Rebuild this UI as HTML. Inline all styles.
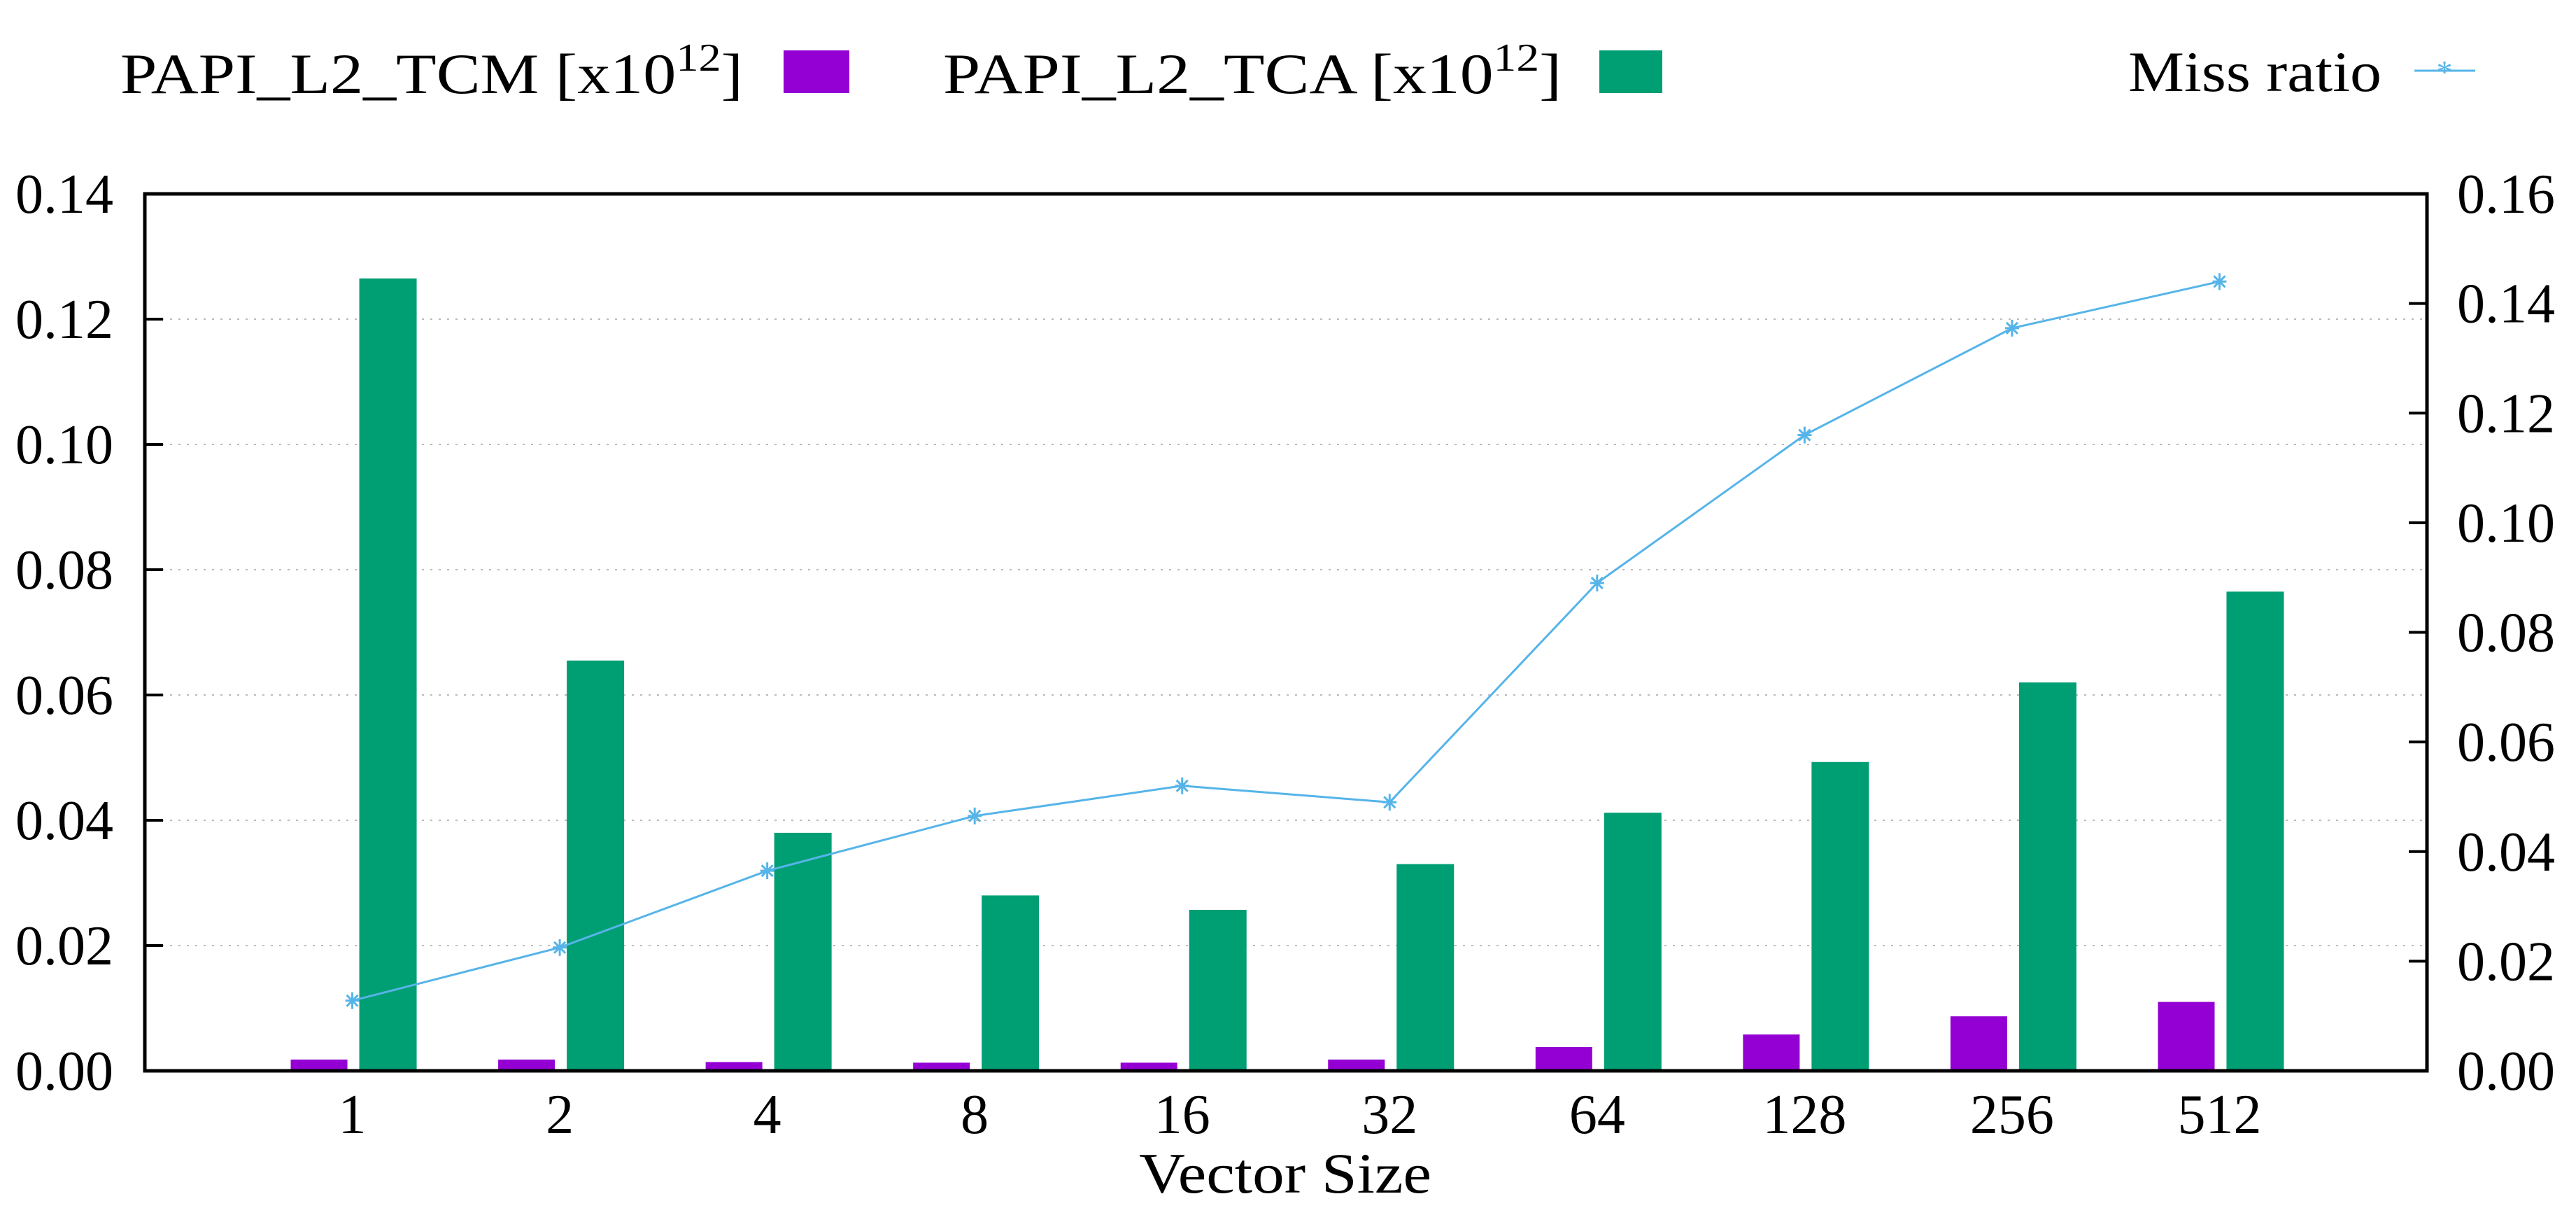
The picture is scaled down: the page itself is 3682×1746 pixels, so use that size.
<!DOCTYPE html>
<html><head><meta charset="utf-8"><style>
html,body{margin:0;padding:0;background:#fff}
svg{display:block}
text{font-family:"Liberation Serif",serif;fill:#000}
</style></head><body>
<svg id="chart" width="3682" height="1746" viewBox="0 0 3682 1746" xmlns="http://www.w3.org/2000/svg">
<g id="legend">
  <text x="172" y="133" font-size="82" textLength="890" lengthAdjust="spacingAndGlyphs">PAPI_L2_TCM [x10<tspan dy="-32" font-size="56">12</tspan><tspan dy="32">]</tspan></text>
  <rect x="1120" y="72" width="94" height="61" fill="#9400d3"/>
  <text x="1348" y="133" font-size="82" textLength="884" lengthAdjust="spacingAndGlyphs">PAPI_L2_TCA [x10<tspan dy="-32" font-size="56">12</tspan><tspan dy="32">]</tspan></text>
  <rect x="2286" y="72" width="90" height="61" fill="#009e73"/>
  <text x="3042" y="130" font-size="82" textLength="362" lengthAdjust="spacingAndGlyphs">Miss ratio</text>
  <line x1="3451" y1="101" x2="3538" y2="101" stroke="#56b4e9" stroke-width="3"/>
  <text x="3494" y="118" font-size="46" text-anchor="middle" fill="#56b4e9" style="fill:#56b4e9">*</text>
</g>
<g id="grid"></g>
<g id="bars"></g>
<g id="line"></g>
<g id="axes"></g>
<text x="1837" y="1704" font-size="82" text-anchor="middle" textLength="418" lengthAdjust="spacingAndGlyphs">Vector Size</text>
</svg>
<script>
const categories = ["1","2","4","8","16","32","64","128","256","512"];
const tcmValues = [0.0018,0.0018,0.0014,0.0013,0.0013,0.0018,0.0038,0.0058,0.0087,0.011];
const tcaValues = [0.1265,0.0655,0.038,0.028,0.0257,0.033,0.0412,0.0493,0.062,0.0765];
const missRatio = [0.0128,0.0225,0.0365,0.0465,0.052,0.049,0.089,0.116,0.1355,0.144];
const leftTicks = ["0.00","0.02","0.04","0.06","0.08","0.10","0.12","0.14"];
const rightTicks = ["0.00","0.02","0.04","0.06","0.08","0.10","0.12","0.14","0.16"];

const NS="http://www.w3.org/2000/svg";
const L=207,R=3469,T=277,B=1530;
const leftMax=0.14,rightMax=0.16;
function xPos(i){return L+(i+1)*(R-L)/(categories.length+1);}
function yLeft(v){return B-(v/leftMax)*(B-T);}
function yRight(v){return B-(v/rightMax)*(B-T);}
function mk(tag,attrs,parent){const e=document.createElementNS(NS,tag);for(const k in attrs)e.setAttribute(k,attrs[k]);parent.appendChild(e);return e;}
const grid=document.getElementById('grid'),bars=document.getElementById('bars'),line=document.getElementById('line'),axes=document.getElementById('axes');

leftTicks.forEach((t)=>{
  const v=parseFloat(t),y=yLeft(v);
  if(v>0&&v<leftMax){
    const g=mk('line',{x1:L,x2:R,y1:y,y2:y,stroke:'#bbb','stroke-width':2,'stroke-dasharray':'3,9'},grid);
    
    
  }
  const tk=mk('line',{x1:L,x2:L+26,y1:y,y2:y,stroke:'#000','stroke-width':4},axes);
  
  
  const tx=mk('text',{x:162,y:y+27,'font-size':80,'text-anchor':'end'},axes);
  tx.textContent=t;
  
  
});
rightTicks.forEach((t)=>{
  const v=parseFloat(t),y=yRight(v);
  const tk=mk('line',{x1:R-26,x2:R,y1:y,y2:y,stroke:'#000','stroke-width':4},axes);
  
  
  const tx=mk('text',{x:3512,y:y+27,'font-size':80},axes);
  tx.textContent=t;
  
  
});
categories.forEach((c,i)=>{
  const cx=xPos(i);
  const y1=yLeft(tcmValues[i]);
  const b1=mk('rect',{x:cx-88,y:y1,width:81,height:B-y1,fill:'#9400d3'},bars);
  
  
  const y2=yLeft(tcaValues[i]);
  const b2=mk('rect',{x:cx+10,y:y2,width:82,height:B-y2,fill:'#009e73'},bars);
  
  
  const tx=mk('text',{x:cx,y:1619,'font-size':80,'text-anchor':'middle'},axes);
  tx.textContent=c;
  
  
});
const pts=missRatio.map((v,i)=>xPos(i)+','+yRight(v)).join(' ');
const pl=mk('polyline',{points:pts,fill:'none',stroke:'#56b4e9','stroke-width':3},line);


missRatio.forEach((v,i)=>{
  const x=xPos(i),y=yRight(v);
  const g=mk('g',{stroke:'#56b4e9','stroke-width':3},line);
  
  
  mk('line',{x1:x-10,x2:x+10,y1:y,y2:y},g);
  mk('line',{x1:x,x2:x,y1:y-12,y2:y+12},g);
  mk('line',{x1:x-8,x2:x+8,y1:y-8,y2:y+8},g);
  mk('line',{x1:x-8,x2:x+8,y1:y+8,y2:y-8},g);
});
const frame=mk('rect',{x:L,y:T,width:R-L,height:B-T,fill:'none',stroke:'#000','stroke-width':5},axes);


</script>
</body></html>
